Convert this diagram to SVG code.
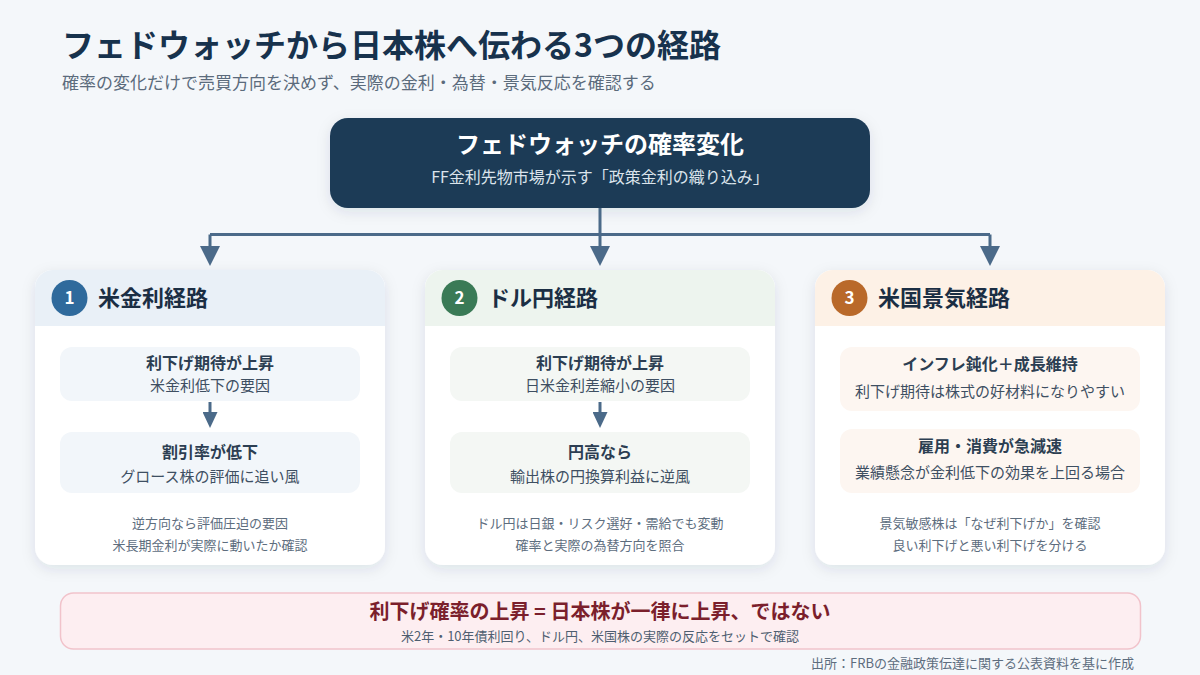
<svg xmlns="http://www.w3.org/2000/svg" width="1200" height="675" viewBox="0 0 1200 675">
  <defs>
    <style>
      text { font-family: "Noto Sans CJK JP", "Noto Sans", sans-serif; }
      .title { font-size: 32px; font-weight: 700; fill: #17324d; }
      .subtitle { font-size: 17px; fill: #5b6b7c; }
      .hub { fill: #1b3a57; }
      .hub-title { font-size: 24px; font-weight: 700; fill: #ffffff; text-anchor: middle; }
      .hub-sub { font-size: 16px; fill: #dbe4ec; text-anchor: middle; }
      .card { fill: #ffffff; }
      .card-head { font-size: 22px; font-weight: 700; fill: #1b2e44; }
      .num { font-size: 17px; font-weight: 700; fill: #ffffff; text-anchor: middle; }
      .step-main { font-size: 16px; font-weight: 700; fill: #2c3e52; text-anchor: middle; }
      .step-sub { font-size: 15px; fill: #3e4f62; text-anchor: middle; }
      .note { font-size: 13px; fill: #5d6d7e; text-anchor: middle; }
      .link { fill: none; stroke: #4b6a89; stroke-width: 3; }
      .banner { fill: #fdeef1; stroke: #f1c3cb; stroke-width: 1.5; }
      .banner-main { font-size: 20px; font-weight: 700; fill: #7b1f2c; text-anchor: middle; }
      .banner-sub { font-size: 13px; fill: #4e5e70; text-anchor: middle; }
      .source { font-size: 13px; fill: #5d6d7e; text-anchor: end; }
    </style>
    <filter id="shadow" x="-10%" y="-10%" width="120%" height="130%">
      <feDropShadow dx="0" dy="4" stdDeviation="7" flood-color="#1b3a57" flood-opacity="0.10"/>
    </filter>
    <marker id="head" markerUnits="userSpaceOnUse" markerWidth="20" markerHeight="20" refX="4" refY="10" orient="auto">
      <path d="M0,0 L20,10 L0,20 z" fill="#4b6a89"/>
    </marker>
    <marker id="head-sm" markerUnits="userSpaceOnUse" markerWidth="16" markerHeight="15" refX="2" refY="7.5" orient="auto">
      <path d="M0,0 L16,7.5 L0,15 z" fill="#4b6a89"/>
    </marker>
  </defs>

  <!-- background -->
  <rect x="0" y="0" width="1200" height="675" fill="#f4f7fa"/>

  <!-- heading -->
  <g id="heading">
    <text class="title" x="62" y="57">フェドウォッチから日本株へ伝わる3つの経路</text>
    <text class="subtitle" x="62" y="89">確率の変化だけで売買方向を決めず、実際の金利・為替・景気反応を確認する</text>
  </g>

  <!-- source node -->
  <g id="fedwatch">
    <rect class="hub" x="330" y="118" width="540" height="90" rx="18" filter="url(#shadow)"/>
    <text class="hub-title" x="600" y="153">フェドウォッチの確率変化</text>
    <text class="hub-sub" x="600" y="183">FF金利先物市場が示す「政策金利の織り込み」</text>
  </g>

  <!-- path 1: US rates -->
  <g id="route-rates">
    <rect class="card" x="35" y="270" width="350" height="295" rx="18" filter="url(#shadow)"/>
    <path d="M35,326 V288 A18,18 0 0 1 53,270 H367 A18,18 0 0 1 385,288 V326 Z" fill="#e9f0f7"/>
    <circle cx="69.5" cy="298" r="18" fill="#2f6a9c"/>
    <text class="num" x="69.5" y="304">1</text>
    <text class="card-head" x="98" y="306">米金利経路</text>
    <rect x="60" y="347" width="300" height="54" rx="12" fill="#f2f6fa"/>
    <text class="step-main" x="210" y="369">利下げ期待が上昇</text>
    <text class="step-sub" x="210" y="391">米金利低下の要因</text>
    <rect x="60" y="432" width="300" height="61" rx="12" fill="#f2f6fa"/>
    <text class="step-main" x="210" y="458">割引率が低下</text>
    <text class="step-sub" x="210" y="482">グロース株の評価に追い風</text>
    <text class="note" x="210" y="528">逆方向なら評価圧迫の要因</text>
    <text class="note" x="210" y="550">米長期金利が実際に動いたか確認</text>
  </g>

  <!-- path 2: USD/JPY -->
  <g id="route-fx">
    <rect class="card" x="425" y="270" width="350" height="295" rx="18" filter="url(#shadow)"/>
    <path d="M425,326 V288 A18,18 0 0 1 443,270 H757 A18,18 0 0 1 775,288 V326 Z" fill="#edf4ee"/>
    <circle cx="459.5" cy="298" r="18" fill="#3a7a56"/>
    <text class="num" x="459.5" y="304">2</text>
    <text class="card-head" x="488" y="306">ドル円経路</text>
    <rect x="450" y="347" width="300" height="54" rx="12" fill="#f4f7f4"/>
    <text class="step-main" x="600" y="369">利下げ期待が上昇</text>
    <text class="step-sub" x="600" y="391">日米金利差縮小の要因</text>
    <rect x="450" y="432" width="300" height="61" rx="12" fill="#f4f7f4"/>
    <text class="step-main" x="600" y="458">円高なら</text>
    <text class="step-sub" x="600" y="482">輸出株の円換算利益に逆風</text>
    <text class="note" x="600" y="528">ドル円は日銀・リスク選好・需給でも変動</text>
    <text class="note" x="600" y="550">確率と実際の為替方向を照合</text>
  </g>

  <!-- path 3: US economy -->
  <g id="route-economy">
    <rect class="card" x="815" y="270" width="350" height="295" rx="18" filter="url(#shadow)"/>
    <path d="M815,326 V288 A18,18 0 0 1 833,270 H1147 A18,18 0 0 1 1165,288 V326 Z" fill="#fdf1e6"/>
    <circle cx="849.5" cy="298" r="18" fill="#b9692a"/>
    <text class="num" x="849.5" y="304">3</text>
    <text class="card-head" x="878" y="306">米国景気経路</text>
    <rect x="840" y="347" width="300" height="64" rx="12" fill="#fdf6f1"/>
    <text class="step-main" x="990" y="370">インフレ鈍化＋成長維持</text>
    <text class="step-sub" x="990" y="397">利下げ期待は株式の好材料になりやすい</text>
    <rect x="840" y="429" width="300" height="64" rx="12" fill="#fdf6f1"/>
    <text class="step-main" x="990" y="452">雇用・消費が急減速</text>
    <text class="step-sub" x="990" y="478">業績懸念が金利低下の効果を上回る場合</text>
    <text class="note" x="990" y="528">景気敏感株は「なぜ利下げか」を確認</text>
    <text class="note" x="990" y="550">良い利下げと悪い利下げを分ける</text>
  </g>

  <!-- connectors (drawn above the cards so the in-card arrows stay visible) -->
  <g id="connectors">
    <path class="link" d="M600,208 V234.5"/>
    <path class="link" d="M210,234.5 H990"/>
    <path class="link" d="M210,234.5 V250" marker-end="url(#head)"/>
    <path class="link" d="M600,234.5 V250" marker-end="url(#head)"/>
    <path class="link" d="M990,234.5 V250" marker-end="url(#head)"/>
    <path class="link" d="M210,402 V414" marker-end="url(#head-sm)"/>
    <path class="link" d="M600,402 V414" marker-end="url(#head-sm)"/>
  </g>

  <!-- takeaway banner -->
  <g id="takeaway">
    <rect class="banner" x="60.5" y="593" width="1080" height="56" rx="13"/>
    <text class="banner-main" x="600" y="619">利下げ確率の上昇 = 日本株が一律に上昇、ではない</text>
    <text class="banner-sub" x="600" y="641">米2年・10年債利回り、ドル円、米国株の実際の反応をセットで確認</text>
  </g>

  <!-- source note -->
  <g id="source">
    <text class="source" x="1134" y="668">出所：FRBの金融政策伝達に関する公表資料を基に作成</text>
  </g>
</svg>
